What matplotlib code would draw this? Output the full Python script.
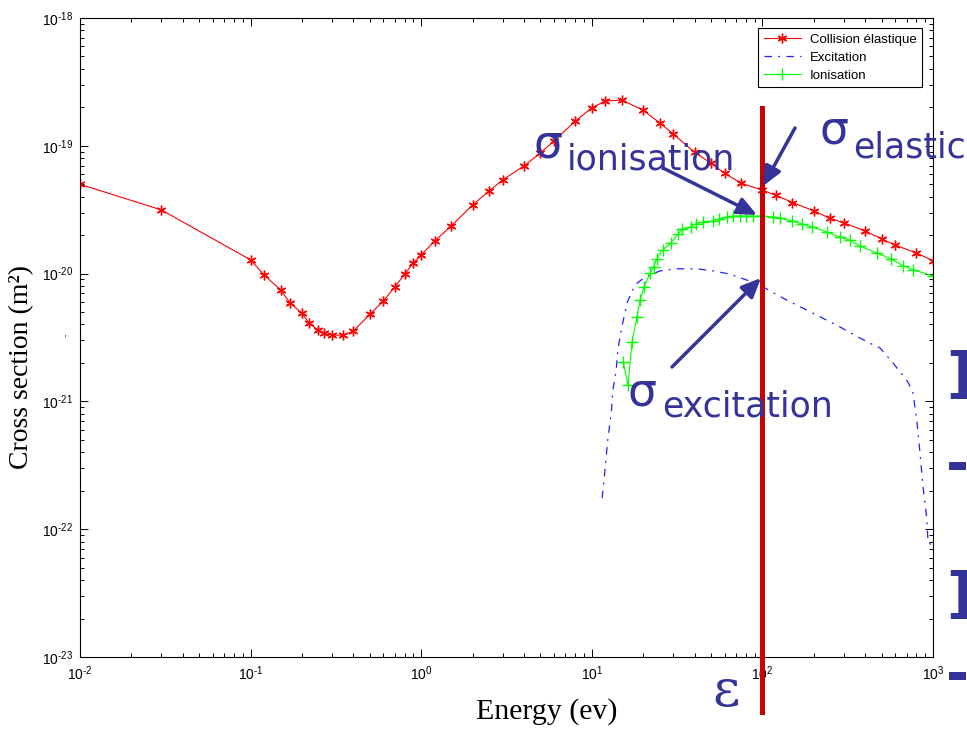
import numpy as np
import matplotlib
matplotlib.use("Agg")
import matplotlib.pyplot as plt
from matplotlib.ticker import FuncFormatter, NullFormatter

plt.rcParams['font.family'] = ['Liberation Sans', 'DejaVu Sans']
plt.rcParams['mathtext.default'] = 'regular'

# elastic collision cross section (m^2) vs energy (eV)
E_elas = [0.01, 0.03, 0.1, 0.12, 0.15, 0.17, 0.2, 0.22, 0.25, 0.27, 0.3, 0.35,
          0.4, 0.5, 0.6, 0.7, 0.8, 0.9, 1.0, 1.2, 1.5, 2, 2.5, 3, 4, 5, 6, 8,
          10, 12, 15, 20, 25, 30, 40, 50, 60, 75, 100, 120, 150, 200, 250, 300,
          400, 500, 600, 800, 1000]
sig_elas = [5.0e-20, 3.15e-20, 1.28e-20, 9.75e-21, 7.45e-21, 5.9e-21, 4.9e-21,
            4.1e-21, 3.6e-21, 3.4e-21, 3.3e-21, 3.3e-21, 3.55e-21, 4.8e-21,
            6.1e-21, 7.85e-21, 9.9e-21, 1.21e-20, 1.4e-20, 1.8e-20, 2.36e-20,
            3.44e-20, 4.43e-20, 5.4e-20, 6.95e-20, 8.8e-20, 1.09e-19, 1.56e-19,
            1.98e-19, 2.24e-19, 2.28e-19, 1.9e-19, 1.51e-19, 1.24e-19, 8.9e-20,
            7.3e-20, 6.1e-20, 5.1e-20, 4.5e-20, 4.1e-20, 3.6e-20, 3.1e-20,
            2.7e-20, 2.5e-20, 2.15e-20, 1.87e-20, 1.67e-20, 1.45e-20, 1.26e-20]

# excitation
E_exc = [11.5, 11.9, 12.4, 13.0, 13.3, 13.9, 14.2, 15.0, 16.1, 17.9, 20.5,
         25.1, 31.6, 41.4, 51.3, 64.5, 81.2, 101, 139, 198, 285, 411, 489,
         583, 713, 764, 806, 839, 874, 922, 935, 1000]
sig_exc = [1.75e-22, 2.75e-22, 5.0e-22, 8.1e-22, 1.23e-21, 1.76e-21, 2.52e-21,
           3.82e-21, 5.9e-21, 8.15e-21, 9.4e-21, 1.05e-20, 1.09e-20, 1.09e-20,
           1.05e-20, 9.9e-21, 8.9e-21, 7.85e-21, 6.2e-21, 4.9e-21, 3.82e-21,
           2.92e-21, 2.62e-21, 2.0e-21, 1.42e-21, 1.16e-21, 6.8e-22, 3.95e-22,
           2.14e-22, 1.18e-22, 7.8e-23, 7.5e-23]

# ionisation
E_ion = [15.3, 16.3, 17.2, 18.4, 19.2, 20.2, 22, 23, 24, 26, 29, 32, 34, 38,
         41, 45, 51, 56, 62, 67, 74, 80, 88, 100, 115, 127, 150, 170, 195, 240,
         285, 325, 375, 470, 570, 670, 765, 1000]
sig_ion = [2.03e-21, 1.34e-21, 2.92e-21, 4.57e-21, 6.2e-21, 7.85e-21, 1.01e-20,
           1.13e-20, 1.3e-20, 1.53e-20, 1.73e-20, 2.04e-20, 2.23e-20, 2.32e-20,
           2.45e-20, 2.54e-20, 2.58e-20, 2.68e-20, 2.77e-20, 2.82e-20, 2.82e-20,
           2.82e-20, 2.82e-20, 2.82e-20, 2.77e-20, 2.72e-20, 2.58e-20, 2.45e-20,
           2.32e-20, 2.11e-20, 1.93e-20, 1.83e-20, 1.64e-20, 1.45e-20, 1.3e-20,
           1.15e-20, 1.07e-20, 9.6e-21]

E_mark = 100  # energy picked out by the vertical line

W, H = 967, 729
fig = plt.figure(figsize=(W / 100, H / 100), dpi=100)
ax = fig.add_axes([80 / W, 1 - 657 / H, 853 / W, 639 / H])


def px(x, y):
    return (x / W, 1 - y / H)


def pow10(v, pos):
    # short hyphen in the exponent, like the old plotting tools do
    e = int(round(np.log10(v)))
    return '$10^{%s}$' % str(e).replace('-', '\u2010')


ax.plot(E_elas, sig_elas, '-', color='#ff0000', lw=0.8, marker=(6, 2, 0),
        ms=7, mew=1.0, label='Collision élastique')
ax.plot(E_exc, sig_exc, color='#2020ff', lw=0.9, ls=(0, (6, 5, 1.5, 5)),
        label='Excitation')
ax.plot(E_ion, sig_ion, '-', color='#00ff00', lw=0.8, marker='+', ms=9,
        mew=1.0, label='Ionisation')

ax.set_xscale('log')
ax.set_yscale('log')
ax.set_xlim(1e-2, 1e3)
ax.set_ylim(1e-23, 1e-18)
for axis in (ax.xaxis, ax.yaxis):
    axis.set_major_formatter(FuncFormatter(pow10))
    axis.set_minor_formatter(NullFormatter())
ax.tick_params(which='both', direction='in', top=True, right=True,
               width=0.7, labelsize=10)
ax.tick_params(which='major', length=6, pad=5)
ax.tick_params(which='minor', length=3)
for s in ax.spines.values():
    s.set_linewidth(0.8)

leg = ax.legend(loc='upper right', bbox_to_anchor=(0.987, 0.984),
                fontsize=9.5, fancybox=False, framealpha=1, edgecolor='black',
                borderpad=0.4, handlelength=2.8, labelspacing=0.45,
                handletextpad=0.7, borderaxespad=0)
leg.get_frame().set_linewidth(0.8)

fig.text(*px(547, 712), 'Energy (ev)', family='Liberation Serif',
         fontsize=21.5, ha='center', va='center')
fig.text(*px(22, 367), 'Cross section (m²)', family='Liberation Serif',
         fontsize=20, rotation=90, ha='center', va='center')
fig.text(*px(65, 334), ',', fontsize=8, color='#333333', ha='center',
         va='center')

# energy marker
ax.axvline(E_mark, ymin=-0.086, ymax=0.859, color='#cc0000', lw=3.6,
           clip_on=False, zorder=5)

navy = '#333399'
sans = ['DejaVu Sans']


def sigma(x, y, sub, xs, ys):
    fig.text(*px(x, y), 'σ', family=sans, fontsize=33, color=navy,
             ha='left', va='baseline')
    fig.text(*px(xs, ys), sub, family=sans, fontsize=25, color=navy,
             ha='left', va='baseline')


sigma(533, 157, 'ionisation', 567, 169)
sigma(820, 143, 'elastic', 853, 157)
sigma(628, 405, 'excitation', 662, 417)
fig.text(*px(712, 706), 'ε', family=['DejaVu Serif'], fontsize=38,
         color=navy, ha='left', va='baseline')

arrow = dict(arrowstyle='-|>,head_length=0.9,head_width=0.4', color=navy,
             lw=2.5, mutation_scale=13, shrinkA=0, shrinkB=0)
for tail, head in [((795, 128), (763, 186)),
                   ((663, 168), (757, 215)),
                   ((672, 367), (761, 278))]:
    fig.add_artist(matplotlib.patches.FancyArrowPatch(
        px(*tail), px(*head), transform=fig.transFigure, **arrow))

# clipped slide fragments at the right edge
for y, ch in [(392, ']'), (482, '-'), (612, ']'), (692, '-')]:
    fig.text(*px(946, y), ch, family=['DejaVu Sans'], weight='bold',
             fontsize=40, color=navy, ha='left', va='baseline')

fig.savefig('out.png', dpi=100)
